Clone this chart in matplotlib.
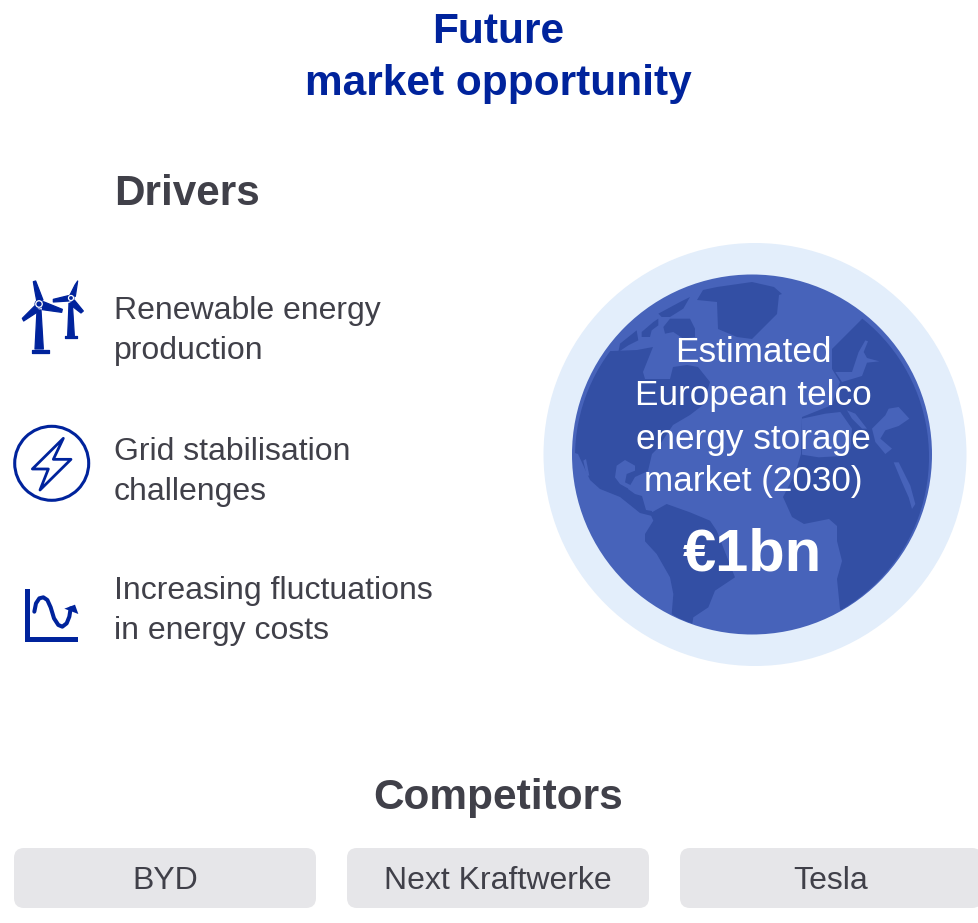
import matplotlib
matplotlib.use("Agg")
import matplotlib.pyplot as plt
from matplotlib.patches import Circle, Polygon, FancyBboxPatch
from matplotlib.path import Path
from matplotlib.patches import PathPatch

plt.rcParams['font.family'] = ['Liberation Sans', 'DejaVu Sans']

TITLE = "Future\nmarket opportunity"
DRIVERS_HEAD = "Drivers"
DRIVERS = ["Renewable energy\nproduction", "Grid stabilisation\nchallenges", "Increasing fluctuations\nin energy costs"]
COMPETITORS_HEAD = "Competitors"
COMPETITORS = ["BYD", "Next Kraftwerke", "Tesla"]
MARKET_LABEL = ["Estimated", "European telco", "energy storage", "market (2030)"]
MARKET_VALUE = "€1bn"

NAVY = "#00239C"
GREY = "#404049"
BOX = "#E6E6E9"
HALO = "#E3EEFB"
GLOBE = "#4763BA"
LAND = "#334FA4"

fig = plt.figure(figsize=(9.79, 9.23), dpi=100)
ax = fig.add_axes([0, 0, 1, 1])
ax.set_xlim(0, 979)
ax.set_ylim(923, 0)
ax.axis("off")


def tile(ox, oy, pts):
    return [(ox + x / 3, oy + y / 3) for x, y in pts]


# Globe
ax.add_patch(Circle((755, 454.5), 211.5, fc=HALO, ec="none", zorder=1))
ax.add_patch(Circle((752, 454.5), 180, fc=GLOBE, ec="none", zorder=2))
clip = Circle((752, 457), 177, transform=ax.transData)

land = [
    # Americas north and Pacific
    [(540, 352), (613, 351), (637, 350), (653, 347), (643, 372), (645, 379), (670, 379), (673, 367),
     (687, 365), (698, 367), (710, 382), (703, 405), (690, 415), (673, 425), (657, 449), (652, 454),
     (648, 471), (635, 477), (628, 489), (635, 494), (642, 496), (646, 510), (652, 511), (652, 516),
     (640, 513), (620, 497), (600, 489), (590, 480), (578, 454), (572, 452), (540, 440)],
    # South America
    tile(570, 454, [(240, 178), (290, 150), (360, 175), (420, 200), (440, 230), (495, 370), (435, 410),
                    (415, 460), (370, 490), (365, 520), (305, 480), (310, 420), (300, 370), (260, 300),
                    (225, 262), (225, 240), (250, 200)]),
    # Greenland
    [(697, 300), (717, 302), (718, 329), (737, 337), (752, 339), (769, 322), (777, 314), (779, 295),
     (782, 294), (774, 287), (752, 282), (717, 287), (703, 290)],
    # Arctic islands
    tile(570, 272, [(265, 125), (330, 90), (360, 75), (340, 110), (300, 135), (275, 135)]),
    tile(570, 272, [(280, 165), (300, 140), (360, 140), (375, 170), (375, 195), (340, 200), (310, 180), (285, 185)]),
    tile(570, 272, [(215, 180), (250, 150), (265, 140), (265, 160), (245, 175), (240, 195), (215, 195)]),
    tile(570, 272, [(150, 215), (200, 175), (205, 205), (175, 220), (145, 240)]),
    # Eurasia and Africa
    [(859, 322), (852, 329), (832, 349), (832, 369), (840, 382), (832, 405), (802, 417), (801, 454),
     (795, 474), (783, 497), (792, 517), (804, 524), (829, 519), (837, 526), (837, 541), (842, 561),
     (837, 579), (840, 609), (880, 650), (970, 560), (970, 300), (880, 300)],
]
for poly in land:
    p = Polygon(poly, closed=True, fc=LAND, ec="none", zorder=3)
    ax.add_patch(p)
    p.set_clip_path(clip)

seas = [
    tile(752, 272, [(340, 205), (320, 240), (300, 300), (250, 300), (270, 330), (330, 312), (345, 272),
                    (382, 268), (345, 258), (335, 240), (348, 208)]),
    tile(752, 272, [(150, 440), (220, 425), (265, 420), (300, 470), (295, 530), (270, 552), (200, 556), (150, 548)]),
    tile(752, 272, [(285, 415), (310, 425), (345, 470), (330, 470), (300, 440)]),
    tile(752, 272, [(360, 470), (400, 430), (410, 410), (440, 405), (472, 440), (440, 462), (400, 475),
                    (385, 500), (420, 530), (400, 546), (370, 510)]),
    tile(752, 454, [(425, 25), (440, 25), (475, 95), (490, 150), (480, 165), (470, 130), (450, 85)]),
    tile(570, 454, [(135, 70), (140, 35), (165, 18), (195, 35), (195, 50), (170, 60), (165, 85), (185, 95),
                    (195, 115), (150, 90)]),
    tile(570, 454, [(48, 15), (58, 65), (50, 65), (40, 20)]),
]
for poly in seas:
    p = Polygon(poly, closed=True, fc=GLOBE, ec="none", zorder=4)
    ax.add_patch(p)
    p.set_clip_path(clip)

# Text
ax.text(498, 58, TITLE, color=NAVY, fontsize=30.5, fontweight="bold", ha="center", va="center", linespacing=1.38, zorder=6)
ax.text(114, 194, DRIVERS_HEAD, color=GREY, fontsize=30.4, fontweight="bold", ha="left", va="center", zorder=6)
ax.text(498, 798, COMPETITORS_HEAD, color=GREY, fontsize=30.5, fontweight="bold", ha="center", va="center", zorder=6)

for label, y in zip(DRIVERS, [331, 472, 611]):
    ax.text(114, y, label, color=GREY, fontsize=23, ha="left", va="center", linespacing=1.4, zorder=6)

for label, y in zip(MARKET_LABEL, [353, 396, 440, 482]):
    ax.text(753, y, label, color="white", fontsize=25.3, ha="center", va="center", zorder=6)
ax.text(752, 555, MARKET_VALUE, color="white", fontsize=43, fontweight="bold", ha="center", va="center", zorder=6)

# Competitor boxes
for label, x0, w in zip(COMPETITORS, [14, 347, 680], [302, 302, 302]):
    ax.add_patch(FancyBboxPatch((x0 + 10, 858), w - 20, 40, boxstyle="round,pad=10,rounding_size=10",
                                fc=BOX, ec="none", zorder=1))
    ax.text(x0 + w / 2, 881, label, color=GREY, fontsize=23, ha="center", va="center", zorder=6)

# Icon: wind turbines
turb = [
    [(55, 20), (62, 18), (84, 75), (66, 82), (60, 50)],
    [(85, 80), (142, 103), (140, 112), (82, 104)],
    [(60, 92), (22, 130), (26, 138), (72, 108)],
    [(66, 105), (78, 105), (85, 222), (60, 222)],
    [(50, 224), (102, 224), (102, 233), (50, 233)],
    [(188, 18), (181, 64), (165, 60), (180, 30)],
    [(115, 73), (160, 62), (162, 78), (115, 81)],
    [(178, 75), (205, 108), (198, 114), (163, 87)],
    [(162, 85), (172, 85), (178, 182), (158, 182)],
    [(150, 182), (186, 182), (186, 188), (150, 188)],
]
for poly in turb:
    ax.add_patch(Polygon(tile(15, 275, poly), closed=True, fc=NAVY, ec=NAVY, lw=0.9, joinstyle="round", zorder=5))
for (cx, cy), r in [((39, 304), 4.5), ((71, 298), 3.5)]:
    ax.add_patch(Circle((cx, cy), r, fc=NAVY, ec="none", zorder=5))
    ax.add_patch(Circle((cx, cy), r * 0.72, fc="none", ec="white", lw=0.9, zorder=5))

# Icon: lightning in circle
ax.add_patch(Circle((51.7, 463.3), 37, fc="none", ec=NAVY, lw=2.2, zorder=5))
ax.add_patch(Polygon(tile(0, 270, [(190, 505), (97, 597), (145, 597), (120, 660), (213, 568), (160, 568)]),
                     closed=True, fc="none", ec=NAVY, lw=2.0, joinstyle="round", zorder=5))

# Icon: fluctuation chart
ax.add_patch(Polygon(tile(0, 270, [(76, 958), (89, 958), (89, 1102), (235, 1102), (235, 1115), (76, 1115)]),
                     closed=True, fc=NAVY, ec="none", zorder=5))
curve = tile(0, 270, [(103, 1025), (108, 1000), (118, 985), (130, 982), (142, 990), (152, 1012), (162, 1045),
                      (175, 1065), (187, 1070), (200, 1060), (208, 1040), (212, 1015)])
ax.add_patch(PathPatch(Path(curve), fc="none", ec=NAVY, lw=2.9, capstyle="round", joinstyle="round", zorder=5))
ax.add_patch(Polygon(tile(0, 270, [(193, 1016), (225, 1004), (235, 1032)]), closed=True, fc=NAVY, ec="none", zorder=5))

fig.savefig("out.png", dpi=100, facecolor="white")
